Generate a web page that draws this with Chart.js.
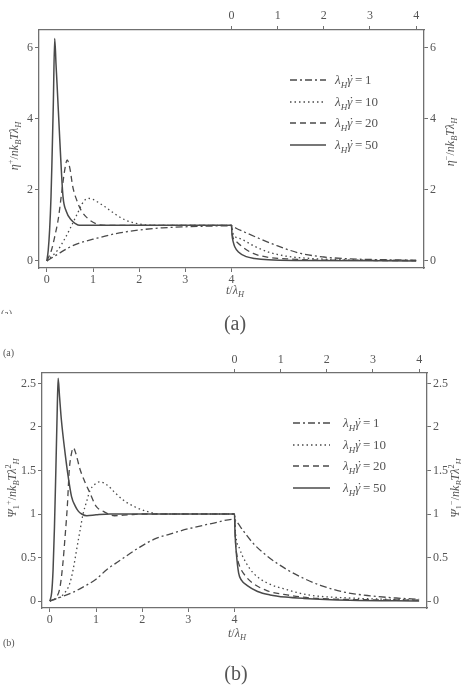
<!DOCTYPE html>
<html>
<head>
<meta charset="utf-8">
<script src="https://cdn.jsdelivr.net/npm/chart.js@4.4.1/dist/chart.umd.min.js"></script>
<style>
  body { margin: 0; background: #fff; width: 461px; height: 691px; position: relative; overflow: hidden;
         font-family: "Liberation Serif", "DejaVu Serif", serif; color: #555; }
  canvas { position: absolute; left: 0; }
  .lbl { position: absolute; white-space: nowrap; transform: translate(-50%, -50%); font-size: 12px; }
  .rot { transform: translate(-50%, -50%) rotate(-90deg); font-size: 12px; }
  sub, sup { font-size: 70%; line-height: 0; }
  .legend { position: absolute; font-size: 13px; }
  .legend div { height: 21.7px; display: flex; align-items: center; }
  .g { position: relative; }
  .dot { position: absolute; left: 2px; top: -1px; font-style: normal; }
</style>
</head>
<body>
<canvas id="chartA" width="461" height="300" style="top:0"></canvas>
<canvas id="chartB" width="461" height="305" style="top:340px"></canvas>

<div class="lbl rot" style="left:14px;top:146px"><i>η</i><sup>+</sup>/<i>nk</i><sub><i>B</i></sub><i>Tλ</i><sub><i>H</i></sub></div>
<div class="lbl rot" style="left:450px;top:142px"><i>η</i><sup>−</sup>/<i>nk</i><sub><i>B</i></sub><i>Tλ</i><sub><i>H</i></sub></div>
<div class="lbl" style="left:235px;top:290px"><i>t</i>/<i>λ</i><sub><i>H</i></sub></div>
<div class="legend" id="legendA" style="left:290px;top:69px"></div>
<div style="position:absolute;left:1px;top:309px;height:5px;overflow:hidden;font-size:10px;line-height:10px">(a)</div>
<div class="lbl" style="left:235px;top:323px;font-size:20px">(a)</div>

<div style="position:absolute;left:3px;top:347px;font-size:10px">(a)</div>
<div class="lbl rot" style="left:12px;top:488px"><i>Ψ</i><sub>1</sub><sup>+</sup>/<i>nk</i><sub><i>B</i></sub><i>Tλ</i><sup>2</sup><sub><i>H</i></sub></div>
<div class="lbl rot" style="left:455px;top:488px"><i>Ψ</i><sub>1</sub><sup>−</sup>/<i>nk</i><sub><i>B</i></sub><i>Tλ</i><sup>2</sup><sub><i>H</i></sub></div>
<div class="lbl" style="left:237px;top:633px"><i>t</i>/<i>λ</i><sub><i>H</i></sub></div>
<div class="legend" id="legendB" style="left:293px;top:412px"></div>
<div style="position:absolute;left:3px;top:637px;font-size:10px">(b)</div>
<div class="lbl" style="left:236px;top:673px;font-size:20px">(b)</div>

<script>
// Shear rates (lambda_H * gamma dot)
const rates = [1, 10, 20, 50];

// (a) eta+ (start-up, t < 4) and eta- (cessation, t > 4)
const etaT1 = [0, 0.25, 0.5, 0.75, 1, 1.5, 2, 2.5, 3, 3.5, 4, 4.1, 4.3, 4.6, 5, 5.5, 6, 6.5, 7, 7.5, 8];
const etaV1 = [0, 0.2, 0.39, 0.52, 0.61, 0.77, 0.87, 0.93, 0.96, 0.98, 0.99, 0.92, 0.8, 0.63, 0.42, 0.21, 0.11, 0.06, 0.04, 0.03, 0.02];
const etaT10 = [0, 0.1, 0.24, 0.4, 0.5, 0.65, 0.8, 0.9, 1.0, 1.25, 1.5, 1.7, 2, 2.3, 4, 4.03, 4.2, 4.5, 4.8, 5.2, 5.7, 6.5, 8];
const etaV10 = [0, 0.12, 0.31, 0.65, 0.9, 1.3, 1.68, 1.76, 1.73, 1.53, 1.3, 1.15, 1.04, 1.0, 1.0, 0.78, 0.62, 0.41, 0.25, 0.13, 0.07, 0.03, 0.01];
const etaT20 = [0, 0.1, 0.17, 0.25, 0.31, 0.38, 0.44, 0.5, 0.56, 0.65, 0.74, 0.9, 1.1, 1.3, 4, 4.02, 4.1, 4.25, 4.47, 4.8, 5.3, 6, 8];
const etaV20 = [0, 0.3, 0.68, 1.2, 1.8, 2.5, 2.84, 2.6, 2.1, 1.7, 1.43, 1.18, 1.03, 1.0, 1.0, 0.72, 0.55, 0.38, 0.21, 0.1, 0.05, 0.02, 0.01];
const etaT50 = [0, 0.03, 0.06, 0.09, 0.11, 0.14, 0.17, 0.2, 0.22, 0.27, 0.3, 0.35, 0.42, 0.53, 0.62, 0.71, 4, 4.01, 4.04, 4.07, 4.15, 4.32, 4.5, 4.8, 5.5, 8];
const etaV50 = [0, 0.3, 0.87, 1.8, 2.75, 4.4, 6.26, 5.5, 5.0, 3.68, 2.9, 1.81, 1.4, 1.15, 1.05, 1.0, 1.0, 0.75, 0.52, 0.4, 0.25, 0.12, 0.07, 0.03, 0.01, 0];

// (b) Psi1+ (start-up) and Psi1- (cessation)
const psiT1 = [0, 0.5, 0.75, 1, 1.23, 1.5, 1.95, 2.3, 2.6, 3, 3.5, 4, 4.02, 4.2, 4.41, 4.7, 5.14, 5.5, 5.86, 6.4, 6.94, 7.5, 8];
const psiV1 = [0, 0.1, 0.17, 0.25, 0.36, 0.46, 0.62, 0.72, 0.77, 0.83, 0.89, 0.94, 0.93, 0.8, 0.66, 0.52, 0.36, 0.26, 0.18, 0.1, 0.06, 0.035, 0.02];
const psiT10 = [0, 0.2, 0.3, 0.43, 0.5, 0.58, 0.65, 0.72, 0.8, 0.87, 0.95, 1.08, 1.25, 1.4, 1.59, 1.85, 2.1, 2.4, 4, 4.02, 4.12, 4.25, 4.41, 4.7, 5.14, 5.6, 6.3, 8];
const psiV10 = [0, 0.04, 0.08, 0.2, 0.35, 0.59, 0.8, 1.0, 1.15, 1.27, 1.33, 1.37, 1.33, 1.25, 1.16, 1.08, 1.03, 1.0, 1.0, 0.8, 0.59, 0.44, 0.32, 0.21, 0.13, 0.07, 0.04, 0.01];
const psiT20 = [0, 0.15, 0.22, 0.28, 0.33, 0.38, 0.42, 0.47, 0.51, 0.56, 0.65, 0.75, 0.87, 1.0, 1.16, 1.4, 1.7, 2.0, 4, 4.02, 4.06, 4.12, 4.25, 4.41, 4.7, 5.14, 5.8, 8];
const psiV20 = [0, 0.05, 0.16, 0.42, 0.74, 1.1, 1.5, 1.7, 1.76, 1.7, 1.52, 1.38, 1.24, 1.09, 1.03, 0.98, 0.99, 1.0, 1.0, 0.7, 0.5, 0.39, 0.28, 0.2, 0.12, 0.07, 0.03, 0.01];
const psiT50 = [0, 0.04, 0.07, 0.1, 0.13, 0.16, 0.18, 0.21, 0.25, 0.33, 0.4, 0.47, 0.55, 0.62, 0.69, 0.8, 1.0, 1.3, 4, 4.01, 4.04, 4.09, 4.15, 4.27, 4.5, 4.77, 5.1, 5.5, 6.5, 8];
const psiV50 = [0, 0.1, 0.36, 0.85, 1.5, 2.2, 2.56, 2.35, 2.08, 1.7, 1.42, 1.2, 1.09, 1.03, 1.0, 0.98, 0.99, 1.0, 1.0, 0.8, 0.55, 0.32, 0.24, 0.18, 0.11, 0.07, 0.045, 0.03, 0.01, 0];

// tick labels
const bottomTicks = [0, 1, 2, 3, 4];
const topTicks = [4, 5, 6, 7, 8];
const etaTicks = [0, 2, 4, 6];
const psiTicks = [0, 0.5, 1, 1.5, 2, 2.5];

const etaT = [etaT1, etaT10, etaT20, etaT50];
const etaV = [etaV1, etaV10, etaV20, etaV50];
const psiT = [psiT1, psiT10, psiT20, psiT50];
const psiV = [psiV1, psiV10, psiV20, psiV50];

const lineColor = "#4a4a4a";
const axisColor = "#707070";
const dashes = [[7, 3, 2, 3], [1.5, 3], [6, 4], []];

function buildDatasets(ts, vs) {
  return rates.map((r, i) => ({
    label: "λH γ̇ = " + r,
    data: ts[i].map((t, j) => ({ x: t, y: vs[i][j] })),
    borderColor: lineColor,
    borderWidth: i === 3 ? 1.5 : 1.3,
    borderDash: dashes[i],
    pointRadius: 0,
    fill: false,
    cubicInterpolationMode: "monotone"
  }));
}

function fixedTicks(list) {
  return (scale) => { scale.ticks = list.map(v => ({ value: v })); };
}

function makeChart(id, datasets, yTicks, yMin, yMax, box) {
  const font = { family: "'Liberation Serif', serif", size: 12 };
  const border = { display: true, color: axisColor, width: 1.3 };
  const grid = { display: true, drawOnChartArea: false, color: axisColor, tickLength: 4, tickWidth: 1 };
  const plain = (v) => String(v);
  return new Chart(document.getElementById(id).getContext("2d"), {
    type: "line",
    data: { datasets: datasets },
    options: {
      responsive: false,
      animation: false,
      devicePixelRatio: 1,
      layout: { padding: 0 },
      plugins: { legend: { display: false }, tooltip: { enabled: false } },
      scales: {
        x: {
          type: "linear", position: "bottom", min: -0.17, max: 8.17,
          afterBuildTicks: fixedTicks(bottomTicks),
          afterFit: (s) => { s.height = box.bottom; },
          ticks: { font: font, color: "#555", padding: 1, maxRotation: 0, callback: plain },
          grid: grid, border: border
        },
        x2: {
          type: "linear", position: "top", min: -0.17, max: 8.17,
          afterBuildTicks: fixedTicks(topTicks),
          afterFit: (s) => { s.height = box.top; },
          ticks: { font: font, color: "#555", padding: box.topPad, maxRotation: 0, callback: (v) => String(v - 4) },
          grid: grid, border: border
        },
        y: {
          type: "linear", position: "left", min: yMin, max: yMax,
          afterBuildTicks: fixedTicks(yTicks),
          afterFit: (s) => { s.width = box.left; },
          ticks: { font: font, color: "#555", padding: 2, callback: plain },
          grid: grid, border: border
        },
        y2: {
          type: "linear", position: "right", min: yMin, max: yMax,
          afterBuildTicks: fixedTicks(yTicks),
          afterFit: (s) => { s.width = box.right; },
          ticks: { font: font, color: "#555", padding: 2, callback: plain },
          grid: grid, border: border
        }
      }
    }
  });
}

function buildLegend(id, chart, lineLen, gap) {
  const el = document.getElementById(id);
  chart.data.datasets.forEach((ds, i) => {
    const row = document.createElement("div");
    const dash = ds.borderDash.length ? ds.borderDash.join(",") : "none";
    row.innerHTML =
      `<svg width="${lineLen}" height="4" style="margin-right:${gap}px"><line x1="0" y1="2" x2="${lineLen}" y2="2" stroke="${lineColor}" stroke-width="${ds.borderWidth}" stroke-dasharray="${dash}"/></svg>` +
      `<span><i>λ</i><sub><i>H</i></sub><span class="g"><i>γ</i><span class="dot">˙</span></span>&thinsp;=&thinsp;${rates[i]}</span>`;
    el.appendChild(row);
  });
}

const chartA = makeChart("chartA", buildDatasets(etaT, etaV), etaTicks, -0.2, 6.5,
  { left: 39, right: 37, top: 30, bottom: 32, topPad: 3 });
const chartB = makeChart("chartB", buildDatasets(psiT, psiV), psiTicks, -0.08, 2.62,
  { left: 42, right: 34, top: 33, bottom: 37, topPad: 2 });

buildLegend("legendA", chartA, 36, 9);
buildLegend("legendB", chartB, 37, 13);
</script>
</body>
</html>
